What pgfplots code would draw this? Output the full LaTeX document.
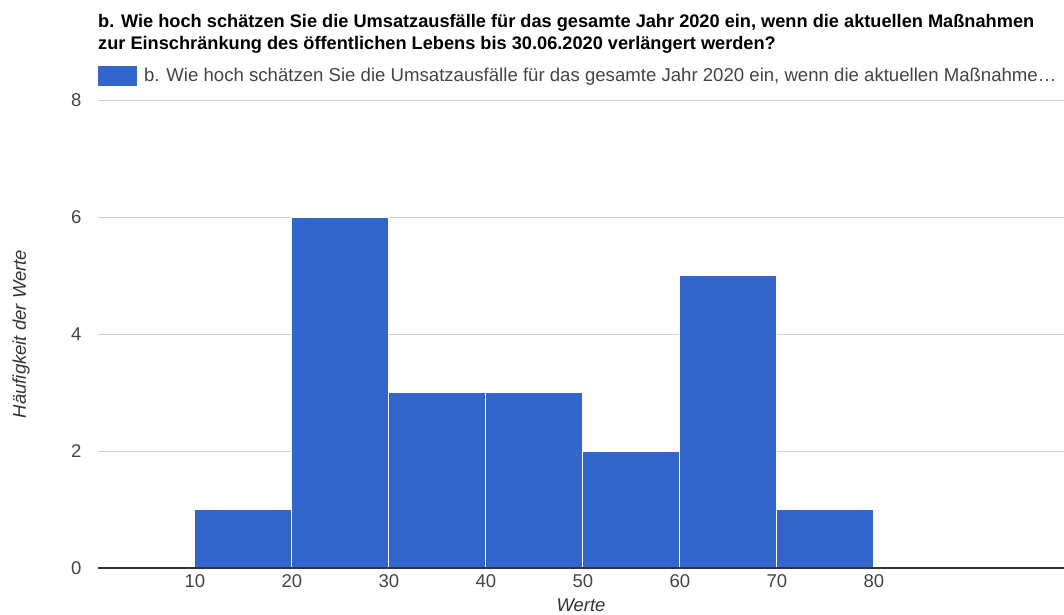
\documentclass[border=0pt]{standalone}
\usepackage{fontspec}
\setmainfont{Liberation Sans}
\usepackage{pgfplots}
\pgfplotsset{compat=1.18}
\definecolor{barblue}{HTML}{3366CC}
\definecolor{gridgray}{HTML}{D0D0D0}
\definecolor{txtgray}{HTML}{444444}
\definecolor{axisdark}{HTML}{333333}
\begin{document}
\begin{tikzpicture}[x=1pt,y=1pt]
\useasboundingbox (0,0) rectangle (1064,614);
\begin{axis}[
  at={(98pt,46pt)}, anchor=south west,
  width=966pt, height=468pt, scale only axis,
  xmin=0, xmax=99.6, ymin=0, ymax=8,
  xtick={10,20,30,40,50,60,70,80},
  ytick={0,2,4,6,8},
  major tick length=0pt,
  ymajorgrids,
  grid style={color=gridgray, line width=1pt},
  axis line style={draw=none},
  /pgf/number format/assume math mode=true,
  ticklabel style={font=\fontsize{18.5}{22}\selectfont, text=txtgray},
  xticklabel style={anchor=north, yshift=-3pt},
  yticklabel style={anchor=east, xshift=-13pt},
  xlabel={Werte},
  ylabel={Häufigkeit der Werte},
  label style={font=\fontsize{18.5}{22}\selectfont\itshape, text=axisdark},
  xlabel style={at={(axis description cs:0.5,-0.079)}, anchor=center},
  ylabel style={at={(axis description cs:-0.0797,0.5)}, anchor=center},
  clip=false,
  legend style={at={(axis description cs:0,1)}, anchor=south west, draw=none,
    fill=none, inner sep=0pt, outer sep=0pt, yshift=14pt,
    font=\fontsize{18.6}{22}\selectfont, text=txtgray,
    /tikz/every odd column/.append style={column sep=5pt}},
  legend cell align=left,
  legend image code/.code={\fill[barblue] (0pt,-9.5pt) rectangle (38pt,9.5pt);},
]
\addplot[ybar interval, fill=barblue, draw=white, line width=1pt] coordinates {
  (10,1) (20,6) (30,3) (40,3) (50,2) (60,5) (70,1) (80,1)
};
\addlegendentry{b. Wie hoch schätzen Sie die Umsatzausfälle für das gesamte Jahr 2020 ein, wenn die aktuellen Maßnahme…}
\addplot[axisdark, line width=1.3pt, forget plot] coordinates {(0,0) (99.6,0)};
\end{axis}
\node[anchor=base west, inner sep=0pt, font=\fontsize{18.2}{22}\selectfont\bfseries] at (98,586)
  {b. Wie hoch schätzen Sie die Umsatzausfälle für das gesamte Jahr 2020 ein, wenn die aktuellen Maßnahmen};
\node[anchor=base west, inner sep=0pt, font=\fontsize{18.2}{22}\selectfont\bfseries] at (98,564)
  {zur Einschränkung des öffentlichen Lebens bis 30.06.2020 verlängert werden?};
\end{tikzpicture}
\end{document}
